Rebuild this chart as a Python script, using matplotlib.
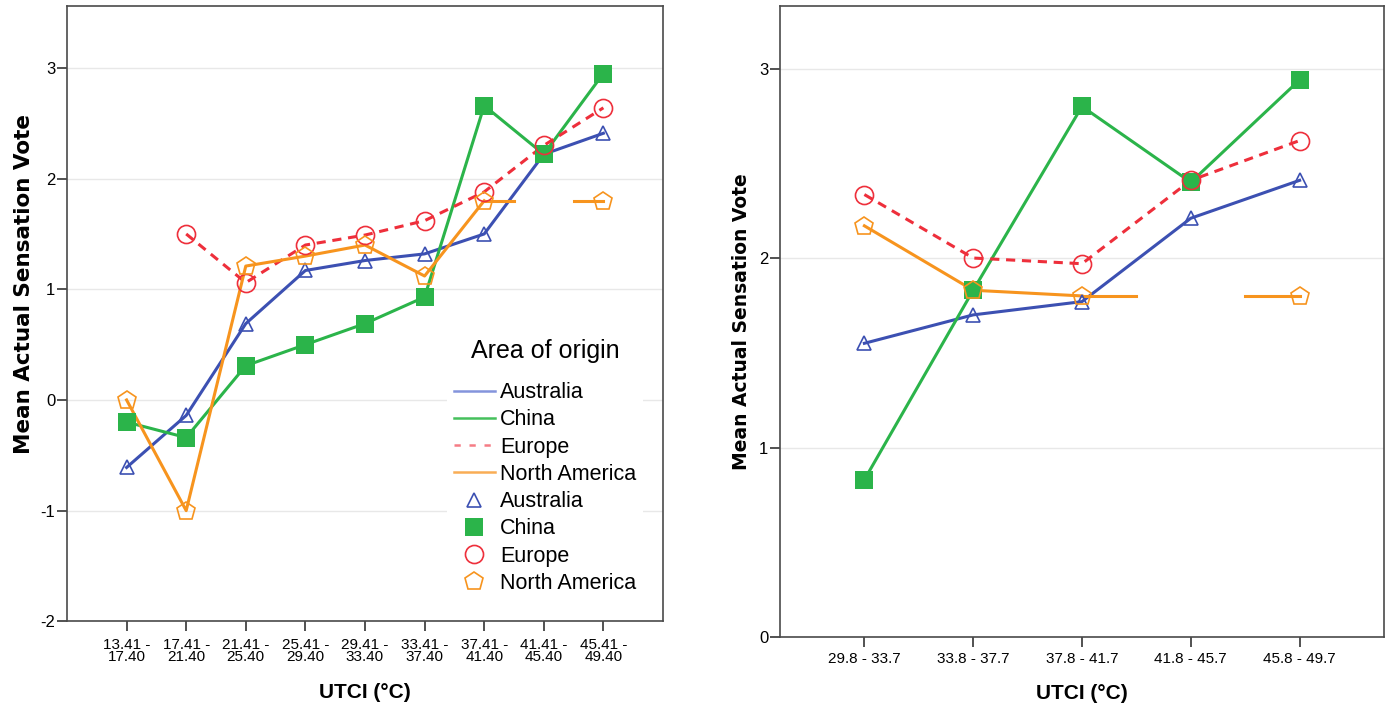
import numpy as np
import matplotlib
matplotlib.use('Agg')
import matplotlib.pyplot as plt
from matplotlib.lines import Line2D

plt.rcParams['font.family'] = ['Liberation Sans', 'DejaVu Sans']

# left panel: 4 degC UTCI bins
left_bins = ['13.41 -\n17.40', '17.41 -\n21.40', '21.41 -\n25.40', '25.41 -\n29.40',
             '29.41 -\n33.40', '33.41 -\n37.40', '37.41 -\n41.40', '41.41 -\n45.40',
             '45.41 -\n49.40']
left_australia = [-0.61, -0.14, 0.69, 1.17, 1.26, 1.32, 1.50, 2.22, 2.41]
left_china = [-0.20, -0.34, 0.31, 0.50, 0.69, 0.93, 2.66, 2.22, 2.95]
left_europe = [np.nan, 1.50, 1.06, 1.40, 1.49, 1.62, 1.88, 2.30, 2.64]
left_namerica = [0.00, -1.00, 1.21, 1.30, 1.40, 1.12, 1.80, np.nan, 1.80]

# right panel: hot bins only
right_bins = ['29.8 - 33.7', '33.8 - 37.7', '37.8 - 41.7', '41.8 - 45.7', '45.8 - 49.7']
right_australia = [1.55, 1.70, 1.77, 2.21, 2.41]
right_china = [0.83, 1.83, 2.80, 2.40, 2.94]
right_europe = [2.335, 2.00, 1.97, 2.41, 2.62]
right_namerica = [2.17, 1.83, 1.80, np.nan, 1.80]

groups = ['Australia', 'China', 'Europe', 'North America']
colors = {'Australia': '#3c50b2', 'China': '#2bb44a', 'Europe': '#ee2f3b',
          'North America': '#f7941e'}
light = {'Australia': '#8494dc', 'China': '#45c05c', 'Europe': '#f57c85',
         'North America': '#f9ad55'}
markers = {'Australia': dict(marker='^', ms=10.5, mfc='none', mew=1.2),
           'China': dict(marker='s', ms=13, mfc=colors['China'], mew=0),
           'Europe': dict(marker='o', ms=13, mfc='none', mew=1.2),
           'North America': dict(marker='p', ms=13.5, mfc='none', mew=1.2)}
styles = {'Europe': (0, (3.0, 2.2))}


def draw_series(ax, vals, name):
    y = np.asarray(vals, dtype=float)
    x = np.arange(1, len(y) + 1)
    c = colors[name]
    ls = styles.get(name, '-')
    ax.plot(x, y, color=c, lw=2.2, ls=ls, zorder=3)
    # SPSS style half stubs either side of an interior missing bin
    for i in range(1, len(y) - 1):
        if np.isnan(y[i]) and not np.isnan(y[i - 1]) and not np.isnan(y[i + 1]):
            ax.plot([x[i - 1], x[i] - 0.5], [y[i - 1], y[i - 1]], color=c, lw=2.2,
                    ls=ls, zorder=3)
            ax.plot([x[i] + 0.5, x[i + 1]], [y[i + 1], y[i + 1]], color=c, lw=2.2,
                    ls=ls, zorder=3)
    ax.plot(x, y, ls='none', mec=c, zorder=4, **markers[name])


def style_axes(ax, bins, xlim, ylim, yticks, ylab_size, tick_size, tick_pad):
    ax.set_xlim(*xlim)
    ax.set_ylim(*ylim)
    ax.set_xticks(np.arange(1, len(bins) + 1))
    ax.set_xticklabels(bins, fontsize=tick_size, linespacing=0.82)
    ax.set_yticks(yticks)
    ax.set_yticklabels([str(t) for t in yticks], fontsize=12)
    ax.grid(axis='y', color='#e8e8e8', lw=1.0, zorder=0)
    ax.set_axisbelow(True)
    for s in ax.spines.values():
        s.set_color('#4a4a4a')
        s.set_linewidth(1.2)
    ax.tick_params(axis='both', direction='out', length=7, width=1.2, color='#333333',
                   pad=1.5, top=False, right=False)
    ax.tick_params(axis='x', pad=tick_pad)
    ax.set_ylabel('Mean Actual Sensation Vote', fontsize=ylab_size, fontweight='bold',
                  family='DejaVu Sans', labelpad=6)
    ax.set_xlabel('UTCI (°C)', fontsize=15, fontweight='bold', labelpad=14)


fig = plt.figure(figsize=(13.87, 7.06), dpi=100)
ax1 = fig.add_axes([0.0483, 0.120, 0.4297, 0.8715])
ax2 = fig.add_axes([0.5624, 0.0977, 0.4354, 0.8938])

for name, vals in zip(groups, [left_australia, left_china, left_europe, left_namerica]):
    draw_series(ax1, vals, name)
for name, vals in zip(groups, [right_australia, right_china, right_europe, right_namerica]):
    draw_series(ax2, vals, name)

style_axes(ax1, left_bins, (0, 10), (-2, 3.56), [-2, -1, 0, 1, 2, 3], 15.5, 11, 5)
style_axes(ax2, right_bins, (0.225, 5.775), (0, 3.33), [0, 1, 2, 3], 13.5, 11, 4)
ax1.yaxis.set_label_coords(-0.055, 0.548)
ax2.xaxis.labelpad = 13

handles = []
for name in groups:
    ls = (0, (2.5, 3.5)) if name == 'Europe' else '-'
    handles.append(Line2D([], [], color=light[name], lw=1.8, ls=ls))
for name in groups:
    handles.append(Line2D([], [], ls='none', mec=colors[name], **markers[name]))
leg = ax1.legend(handles, groups + groups, title='Area of origin', loc='center',
                 bbox_to_anchor=(0.802, 0.252), frameon=True, fontsize=15.5,
                 title_fontsize=18, labelspacing=0.29, handlelength=1.9,
                 handletextpad=0.25, borderpad=0.3)
leg.get_frame().set_facecolor('white')
leg.get_frame().set_edgecolor('none')
leg.get_frame().set_alpha(1.0)
leg._legend_box.sep = 14

fig.savefig('out.png', dpi=100)
